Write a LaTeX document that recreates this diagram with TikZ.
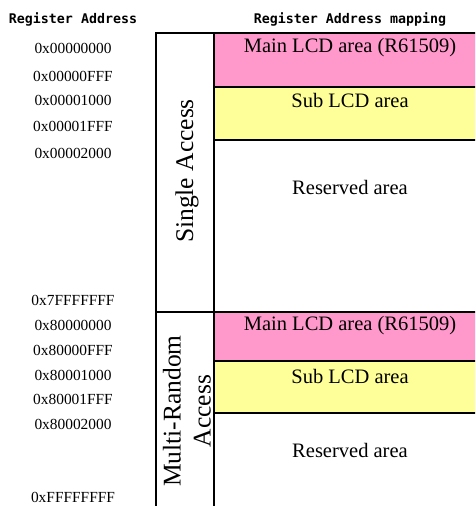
\documentclass[tikz,border=0pt]{standalone}
\usepackage{fontspec}
\setmainfont{Liberation Serif}
\newfontfamily\hdrfont{DejaVu Sans Mono}
\usetikzlibrary{positioning}
\definecolor{mainfill}{RGB}{255,153,204}
\definecolor{subfill}{RGB}{255,255,153}

\begin{document}
\begin{tikzpicture}[
  x=1pt, y=-1pt,
  hdr/.style={font=\hdrfont\bfseries\fontsize{13.3}{15}\selectfont, inner sep=0pt},
  addr/.style={font=\fontsize{15.4}{18}\selectfont, inner sep=0pt},
  area/.style={font=\fontsize{20.5}{24}\selectfont, inner sep=0pt},
  acc/.style={font=\fontsize{25.5}{30}\selectfont, rotate=90, align=center, inner sep=0pt},
  rule/.style={line width=1.8pt},
]
\clip (0,0) rectangle (475,506);

% coloured regions
\fill[mainfill] (214,33) rectangle (480,87);
\fill[subfill] (214,87) rectangle (480,140);
\fill[mainfill] (214,312) rectangle (480,361);
\fill[subfill] (214,361) rectangle (480,413);

% frame
\draw[rule] (156,510) -- (156,33) -- (480,33);
\draw[rule] (214,33) -- (214,510);
\draw[rule] (156,312) -- (480,312);
\foreach \y in {87, 140, 361, 413}
  \draw[rule] (214,\y) -- (480,\y);

% headers
\node[hdr] (hdraddr) at (73,19) {Register Address};
\node[hdr] (hdrmap) at (350,19) {Register Address mapping};

% addresses
\foreach \y/\a in {48/0x00000000, 76/0x00000FFF, 100/0x00001000, 126/0x00001FFF,
                   153/0x00002000, 300/0x7FFFFFFF, 325/0x80000000, 350/0x80000FFF,
                   375/0x80001000, 399/0x80001FFF, 424/0x80002000, 497/0xFFFFFFFF}
  \node[addr] (a\y) at (73,\y) {\a};

% access modes
\node[acc] (single) at (187,171) {Single Access};
\node[acc] (multi) at (187,411) {Multi-Random\\Access};

% areas
\node[area] (main1) at (350,48) {Main LCD area (R61509)};
\node[area] (sub1) at (350,100) {Sub LCD area};
\node[area] (res1) at (350,187) {Reserved area};
\node[area] (main2) at (350,326) {Main LCD area (R61509)};
\node[area] (sub2) at (350,376) {Sub LCD area};
\node[area] (res2) at (350,450) {Reserved area};
\end{tikzpicture}
\end{document}
